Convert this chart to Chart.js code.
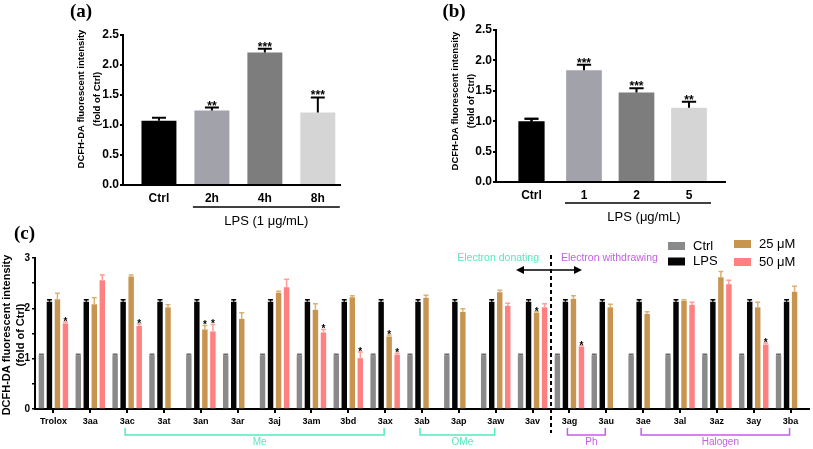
<!DOCTYPE html>
<html>
<head>
<meta charset="utf-8">
<script src="https://cdn.jsdelivr.net/npm/chart.js@4.4.1/dist/chart.umd.min.js"></script>
<style>
body{margin:0;background:#fff;}
#wrap{position:relative;width:813px;height:449px;overflow:hidden;background:#fff;}
canvas{position:absolute;}
</style>
</head>
<body>
<div id="wrap">
  <canvas id="chartA" width="400" height="230" style="left:0;top:0"></canvas>
  <canvas id="chartB" width="413" height="230" style="left:400px;top:0"></canvas>
  <canvas id="chartC" width="813" height="229" style="left:0;top:220px"></canvas>
</div>
<script>
var SANS = '"Liberation Sans", Arial, sans-serif';
var SERIF = '"Liberation Serif", "Times New Roman", serif';

// panel (a)
var aLabels = ['Ctrl', '2h', '4h', '8h'];
var aValues = [1.07, 1.24, 2.21, 1.21];
var aErrors = [1.12, 1.29, 2.27, 1.46];
var aStars = ['', '**', '***', '***'];
var aColors = ['#000000', '#a2a2aa', '#7d7d7d', '#d5d5d5'];

// panel (b)
var bLabels = ['Ctrl', '1', '2', '5'];
var bValues = [1.00, 1.84, 1.47, 1.22];
var bErrors = [1.04, 1.93, 1.54, 1.32];
var bStars = ['', '***', '***', '**'];
var bColors = ['#000000', '#a2a2aa', '#7d7d7d', '#d5d5d5'];

// panel (c)
var cGroups = ['Trolox','3aa','3ac','3at','3an','3ar','3aj','3am','3bd','3ax','3ab','3ap','3aw','3av','3ag','3au','3ae','3al','3az','3ay','3ba'];
var cCtrl    = [1.07,1.07,1.07,1.07,1.07,1.07,1.07,1.07,1.07,1.07,1.07,1.07,1.07,1.07,1.07,1.07,1.07,1.07,1.07,1.07,1.07];
var cCtrlErr = [1.09,1.09,1.09,1.09,1.09,1.09,1.09,1.09,1.09,1.09,1.09,1.09,1.09,1.09,1.09,1.09,1.09,1.09,1.09,1.09,1.09];
var cLPS     = [2.13,2.13,2.13,2.13,2.13,2.13,2.13,2.13,2.13,2.13,2.13,2.13,2.13,2.13,2.13,2.13,2.13,2.13,2.13,2.13,2.13];
var cLPSErr  = [2.17,2.17,2.17,2.17,2.17,2.17,2.17,2.17,2.17,2.17,2.17,2.17,2.17,2.17,2.17,2.17,2.17,2.17,2.17,2.17,2.17];
var c25      = [2.18,2.08,2.63,2.02,1.58,1.79,2.31,1.97,2.22,1.44,2.21,1.93,2.32,1.91,2.19,2.02,1.89,2.15,2.62,2.02,2.33];
var c25Err   = [2.30,2.21,2.66,2.07,1.66,1.91,2.34,2.09,2.25,1.47,2.26,1.99,2.36,1.93,2.25,2.08,1.93,2.17,2.73,2.12,2.44];
var c50      = [1.70,2.56,1.65,null,1.54,null,2.42,1.52,1.01,1.08,null,null,2.05,2.02,1.24,null,null,2.07,2.48,1.28,null];
var c50Err   = [1.73,2.66,1.69,null,1.68,null,2.58,1.58,1.13,1.11,null,null,2.10,2.09,1.26,null,null,2.12,2.56,1.31,null];
var c25Stars = ['','','','','*','','','','','*','','','','*','','','','','','',''];
var c50Stars = ['*','','*','','*','','','*','*','*','','','','','*','','','','','*',''];
var cBrackets = [['Me', 2, 9, 'don'], ['OMe', 10, 12, 'don'], ['Ph', 14, 15, 'wd'], ['Halogen', 16, 20, 'wd']];

var TEAL = '#55e9c0';
var PURPLE = '#c35ee6';

Chart.defaults.font.family = SANS;
Chart.defaults.color = '#000';

function errorBars(chart, di, errs, color, capFrac, lw) {
  var ctx = chart.ctx, meta = chart.getDatasetMeta(di), ys = chart.scales.y;
  ctx.save();
  ctx.strokeStyle = color;
  ctx.lineWidth = lw;
  meta.data.forEach(function(bar, i) {
    if (errs[i] == null || !isFinite(bar.y) || !isFinite(bar.x)) return;
    var ye = ys.getPixelForValue(errs[i]);
    var cap = bar.width * capFrac;
    ctx.beginPath();
    ctx.moveTo(bar.x, bar.y);
    ctx.lineTo(bar.x, ye);
    ctx.moveTo(bar.x - cap / 2, ye);
    ctx.lineTo(bar.x + cap / 2, ye);
    ctx.stroke();
  });
  ctx.restore();
}

function starMarks(chart, di, errs, stars, font, shift) {
  var ctx = chart.ctx, meta = chart.getDatasetMeta(di), ys = chart.scales.y;
  ctx.save();
  ctx.font = font;
  ctx.fillStyle = '#000';
  ctx.textAlign = 'center';
  ctx.textBaseline = 'alphabetic';
  meta.data.forEach(function(bar, i) {
    if (!stars[i] || errs[i] == null || !isFinite(bar.x)) return;
    ctx.fillText(stars[i], bar.x, ys.getPixelForValue(errs[i]) + shift);
  });
  ctx.restore();
}

function text(ctx, str, x, y, font, color, align) {
  ctx.save();
  ctx.font = font;
  ctx.fillStyle = color || '#000';
  ctx.textAlign = align || 'center';
  ctx.textBaseline = 'middle';
  ctx.fillText(str, x, y);
  ctx.restore();
}

function yTitle(ctx, lines, xs, yc, font) {
  for (var i = 0; i < lines.length; i++) {
    ctx.save();
    ctx.translate(xs[i], yc);
    ctx.rotate(-Math.PI / 2);
    text(ctx, lines[i], 0, 0, font);
    ctx.restore();
  }
}

function hline(ctx, x1, x2, y, color, lw) {
  ctx.save();
  ctx.strokeStyle = color;
  ctx.lineWidth = lw;
  ctx.beginPath();
  ctx.moveTo(x1, y);
  ctx.lineTo(x2, y);
  ctx.stroke();
  ctx.restore();
}

function smallPanel(id, labels, values, errors, stars, colors, o) {
  // first bar can get its own (narrower) width, so it sits in a second dataset
  var mainData = values.map(function(v, i) { return {x: i, y: (o.firstPct && i === 0) ? null : v}; });
  var datasets = [{
    data: mainData,
    backgroundColor: colors,
    barPercentage: o.barPct,
    categoryPercentage: 1
  }];
  if (o.firstPct) {
    datasets.push({
      data: [{x: 0, y: values[0]}],
      backgroundColor: colors[0],
      barPercentage: o.firstPct,
      categoryPercentage: 1
    });
  }
  return new Chart(document.getElementById(id), {
    type: 'bar',
    data: {datasets: datasets},
    options: {
      responsive: false,
      animation: false,
      grouped: false,
      layout: {padding: {left: 0, top: o.top, right: o.right, bottom: 0}},
      plugins: {legend: {display: false}, tooltip: {enabled: false}},
      scales: {
        x: {
          type: 'linear', min: o.xmin, max: o.xmax, offset: false,
          afterBuildTicks: function(s) { s.ticks = labels.map(function(l, i) { return {value: i}; }); },
          afterFit: function(s) { s.height = o.xh; },
          ticks: {callback: function(v) { return labels[v]; }, color: '#000', font: {size: 12, weight: 'bold'}, padding: 6, maxRotation: 0, autoSkip: false},
          grid: {display: false, drawTicks: false},
          border: {color: '#000', width: 2}
        },
        y: {
          min: 0, max: 2.5,
          afterFit: function(s) { s.width = o.yw; },
          ticks: {stepSize: 0.5, callback: function(v) { return v.toFixed(1); }, color: '#000', font: {size: 12, weight: 'bold'}, padding: 1},
          grid: {drawOnChartArea: false, color: '#000', lineWidth: 2, tickLength: 3},
          border: {color: '#000', width: 2}
        }
      }
    },
    plugins: [{
      id: id + 'Extras',
      afterDatasetsDraw: function(chart) {
        errorBars(chart, 0, errors, '#000', 0.4, 2);
        starMarks(chart, 0, errors, stars, 'bold 12px ' + SANS, 2);
        if (o.firstPct) {
          errorBars(chart, 1, [errors[0]], '#000', 0.5, 2);
          starMarks(chart, 1, [errors[0]], [stars[0]], 'bold 12px ' + SANS, 2);
        }
      },
      afterDraw: function(chart) {
        var ctx = chart.ctx, xs = chart.scales.x;
        text(ctx, o.tag, o.tagX, 12, 'bold 19px ' + SERIF);
        yTitle(ctx, ['DCFH-DA fluorescent intensity', '(fold of Ctrl)'], o.titleX, o.titleY, 'bold 9.5px ' + SANS);
        var x1 = xs.getPixelForValue(1) - 19, x2 = xs.getPixelForValue(3) + 22;
        hline(ctx, x1, x2, o.lineY, '#000', 1.5);
        text(ctx, o.lps, (x1 + x2) / 2 + o.lpsShift, o.lineY + 14, '13px ' + SANS);
      }
    }]
  });
}

smallPanel('chartA', aLabels, aValues, aErrors, aStars, aColors, {
  barPct: 0.66, top: 35, right: 60, xh: 45, yw: 123, xmin: -0.679, xmax: 3.419,
  tag: '(a)', tagX: 81, titleX: [81, 97], titleY: 99, lineY: 207, lps: 'LPS (1 μg/mL)', lpsShift: 0
});

smallPanel('chartB', bLabels, bValues, bErrors, bStars, bColors, {
  barPct: 0.68, firstPct: 0.5, top: 30, right: 88, xh: 48, yw: 96, xmin: -0.676, xmax: 3.686,
  tag: '(b)', tagX: 54, titleX: [55, 71], titleY: 101, lineY: 203, lps: 'LPS (μg/mL)', lpsShift: 6
});

new Chart(document.getElementById('chartC'), {
  type: 'bar',
  data: {
    labels: cGroups,
    datasets: [
      {label: 'Ctrl', data: cCtrl, backgroundColor: '#8a8a8a'},
      {label: 'LPS', data: cLPS, backgroundColor: '#050505'},
      {label: '25 μM', data: c25, backgroundColor: '#c79550'},
      {label: '50 μM', data: c50, backgroundColor: '#ff8080'}
    ]
  },
  options: {
    responsive: false,
    animation: false,
    datasets: {bar: {categoryPercentage: 0.87, barPercentage: 0.68}},
    layout: {padding: {left: 0, top: 38, right: 4, bottom: 0}},
    plugins: {legend: {display: false}, tooltip: {enabled: false}},
    scales: {
      x: {
        afterFit: function(s) { s.height = 40; },
        ticks: {color: '#000', font: {size: 9, weight: 'bold'}, padding: 3, autoSkip: false, maxRotation: 0},
        grid: {drawOnChartArea: false, offset: false, color: '#000', lineWidth: 2, tickLength: 4},
        border: {color: '#000', width: 2}
      },
      y: {
        min: 0, max: 3,
        afterFit: function(s) { s.width = 35; },
        ticks: {stepSize: 0.5, callback: function(v) { return Number.isInteger(v) ? String(v) : ''; }, color: '#000', font: {size: 10, weight: 'bold'}, padding: 2},
        grid: {drawOnChartArea: false, color: '#000', lineWidth: 1.5, tickLength: 3},
        border: {color: '#000', width: 2}
      }
    }
  },
  plugins: [{
    id: 'cExtras',
    afterDatasetsDraw: function(chart) {
      errorBars(chart, 0, cCtrlErr, '#6a6a6a', 0.9, 1.5);
      errorBars(chart, 1, cLPSErr, '#000', 0.9, 1.5);
      errorBars(chart, 2, c25Err, '#d9b272', 0.9, 1.5);
      errorBars(chart, 3, c50Err, '#ff9c9c', 0.9, 1.5);
      starMarks(chart, 2, c25Err, c25Stars, 'bold 10px ' + SANS, 3);
      starMarks(chart, 3, c50Err, c50Stars, 'bold 10px ' + SANS, 3);
    },
    afterDraw: function(chart) {
      var ctx = chart.ctx, xs = chart.scales.x;
      text(ctx, '(c)', 24.5, 14.5, 'bold 19px ' + SERIF);
      yTitle(ctx, ['DCFH-DA fluorescent intensity', '(fold of Ctrl)'], [7, 21], 115, 'bold 11px ' + SANS);

      // legend, 2 columns
      var spots = [[668, 26], [668, 41.5], [734, 24], [734, 42]];
      chart.data.datasets.forEach(function(ds, i) {
        ctx.fillStyle = ds.backgroundColor;
        ctx.fillRect(spots[i][0], spots[i][1] - 4, 17, 8);
        text(ctx, ds.label, spots[i][0] + 25, spots[i][1], '13px ' + SANS, '#000', 'left');
      });

      // electron donating / withdrawing divider
      var xm = (xs.getPixelForValue(13) + xs.getPixelForValue(14)) / 2;
      ctx.save();
      ctx.strokeStyle = '#000';
      ctx.lineWidth = 2;
      ctx.setLineDash([4, 3]);
      ctx.beginPath();
      ctx.moveTo(xm, 35);
      ctx.lineTo(xm, 213);
      ctx.stroke();
      ctx.restore();
      hline(ctx, xm - 32, xm + 28, 50, '#000', 1.5);
      ctx.fillStyle = '#000';
      ctx.beginPath();
      ctx.moveTo(xm - 35, 50); ctx.lineTo(xm - 27, 46); ctx.lineTo(xm - 27, 54); ctx.closePath();
      ctx.moveTo(xm + 31, 50); ctx.lineTo(xm + 23, 46); ctx.lineTo(xm + 23, 54); ctx.closePath();
      ctx.fill();
      text(ctx, 'Electron donating', xm - 12, 38, '10.5px ' + SANS, TEAL, 'right');
      text(ctx, 'Electron withdrawing', xm + 10, 38, '10.5px ' + SANS, PURPLE, 'left');

      // substituent brackets
      cBrackets.forEach(function(b) {
        var col = b[3] === 'don' ? TEAL : PURPLE;
        var x1 = xs.getPixelForValue(b[1]) - 2, x2 = xs.getPixelForValue(b[2]) - 1;
        ctx.save();
        ctx.strokeStyle = col;
        ctx.lineWidth = 1.5;
        ctx.beginPath();
        ctx.moveTo(x1, 208); ctx.lineTo(x1, 215); ctx.lineTo(x2, 215); ctx.lineTo(x2, 208);
        ctx.stroke();
        ctx.restore();
        text(ctx, b[0], (x1 + x2) / 2 + 5, 222, '10px ' + SANS, col);
      });
    }
  }]
});
</script>
</body>
</html>
